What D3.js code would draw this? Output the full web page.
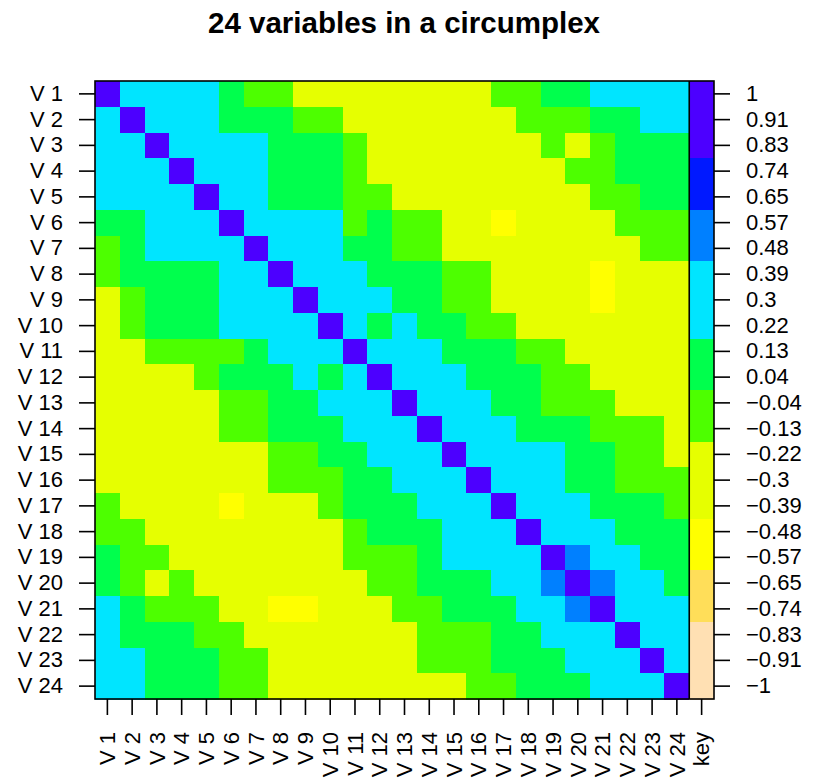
<!DOCTYPE html>
<html>
<head>
<meta charset="utf-8">
<script src="https://cdn.jsdelivr.net/npm/d3@7"></script>
<style>
  html, body { margin: 0; padding: 0; background: #fff; }
  svg { display: block; }
  text { font-family: "Liberation Sans", Arial, Helvetica, sans-serif; fill: #000; }
</style>
</head>
<body>
<svg id="chart" width="815" height="784"></svg>
<script>
// Estimated correlation levels read from the colour bins
const P = 1.0, B = 0.5, C = 0.3, G = 0.1, L = -0.1, Y = -0.3, W = -0.5;

const variables = ["V 1","V 2","V 3","V 4","V 5","V 6","V 7","V 8","V 9","V 10","V 11","V 12",
                   "V 13","V 14","V 15","V 16","V 17","V 18","V 19","V 20","V 21","V 22","V 23","V 24"];

const corMatrix = [
  [P,C,C,C,C,G,L,L,Y,Y,Y,Y,Y,Y,Y,Y,L,L,G,G,C,C,C,C],
  [C,P,C,C,C,G,G,G,L,L,Y,Y,Y,Y,Y,Y,Y,L,L,L,G,G,C,C],
  [C,C,P,C,C,C,C,G,G,G,L,Y,Y,Y,Y,Y,Y,Y,L,Y,L,G,G,G],
  [C,C,C,P,C,C,C,G,G,G,L,Y,Y,Y,Y,Y,Y,Y,Y,L,L,G,G,G],
  [C,C,C,C,P,C,C,G,G,G,L,L,Y,Y,Y,Y,Y,Y,Y,Y,L,L,G,G],
  [G,G,C,C,C,P,C,C,C,C,L,G,L,L,Y,Y,W,Y,Y,Y,Y,L,L,L],
  [L,G,C,C,C,C,P,C,C,C,G,G,L,L,Y,Y,Y,Y,Y,Y,Y,Y,L,L],
  [L,G,G,G,G,C,C,P,C,C,C,G,G,G,L,L,Y,Y,Y,Y,W,Y,Y,Y],
  [Y,L,G,G,G,C,C,C,P,C,C,C,G,G,L,L,Y,Y,Y,Y,W,Y,Y,Y],
  [Y,L,G,G,G,C,C,C,C,P,C,G,C,G,G,L,L,Y,Y,Y,Y,Y,Y,Y],
  [Y,Y,L,L,L,L,G,C,C,C,P,C,C,C,G,G,G,L,L,Y,Y,Y,Y,Y],
  [Y,Y,Y,Y,L,G,G,G,C,G,C,P,C,C,C,G,G,G,L,L,Y,Y,Y,Y],
  [Y,Y,Y,Y,Y,L,L,G,G,C,C,C,P,C,C,C,G,G,L,L,L,Y,Y,Y],
  [Y,Y,Y,Y,Y,L,L,G,G,G,C,C,C,P,C,C,C,G,G,G,L,L,L,Y],
  [Y,Y,Y,Y,Y,Y,Y,L,L,G,G,C,C,C,P,C,C,C,C,G,G,L,L,Y],
  [Y,Y,Y,Y,Y,Y,Y,L,L,L,G,G,C,C,C,P,C,C,C,G,G,L,L,L],
  [L,Y,Y,Y,Y,W,Y,Y,Y,L,G,G,G,C,C,C,P,C,C,C,G,G,G,L],
  [L,L,Y,Y,Y,Y,Y,Y,Y,Y,L,G,G,G,C,C,C,P,C,C,C,G,G,G],
  [G,L,L,Y,Y,Y,Y,Y,Y,Y,L,L,L,G,C,C,C,C,P,B,C,C,G,G],
  [G,L,Y,L,Y,Y,Y,Y,Y,Y,Y,L,L,G,G,G,C,C,B,P,B,C,C,G],
  [C,G,L,L,L,Y,Y,W,W,Y,Y,Y,L,L,G,G,G,C,C,B,P,C,C,C],
  [C,G,G,G,L,L,Y,Y,Y,Y,Y,Y,Y,L,L,L,G,G,C,C,C,P,C,C],
  [C,C,G,G,G,L,L,Y,Y,Y,Y,Y,Y,L,L,L,G,G,G,C,C,C,P,C],
  [C,C,G,G,G,L,L,Y,Y,Y,Y,Y,Y,Y,Y,L,L,G,G,G,C,C,C,P]
];

// Key column values (top to bottom) and their labels
const keyValues = [1, 0.913, 0.826, 0.739, 0.652, 0.565, 0.478, 0.391, 0.304, 0.217, 0.130, 0.043,
                   -0.043, -0.130, -0.217, -0.304, -0.391, -0.478, -0.565, -0.652, -0.739, -0.826, -0.913, -1];
const keyLabels = ["1","0.91","0.83","0.74","0.65","0.57","0.48","0.39","0.3","0.22","0.13","0.04",
                   "\u22120.04","\u22120.13","\u22120.22","\u22120.3","\u22120.39","\u22120.48","\u22120.57",
                   "\u22120.65","\u22120.74","\u22120.83","\u22120.91","\u22121"];

// topo.colors(10), reversed so low -> high
const palette = ["#FFE0B3","#FFDE59","#FFFF00","#E6FF00","#4DFF00","#00FF4D","#00E5FF","#0080FF","#0019FF","#4C00FF"];

const chartTitle = "24 variables in a circumplex";
const columns = variables.concat(["key"]);

const svg = d3.select("#chart");
const plotL = 95, plotR = 714, plotT = 81, plotB = 699;

const x = d3.scaleBand().domain(columns).range([plotL, plotR]).padding(0);
const y = d3.scaleBand().domain(variables).range([plotT, plotB]).padding(0);
const color = d3.scaleQuantize().domain([-1, 1]).range(palette);

// Title
svg.append("text")
  .attr("x", 404)
  .attr("y", 33)
  .attr("text-anchor", "middle")
  .style("font-size", "29.5px")
  .style("font-weight", "bold")
  .text(chartTitle);

// Cells
const cells = [];
corMatrix.forEach((row, i) => row.forEach((v, j) => cells.push({r: variables[i], c: variables[j], v})));
svg.append("g").selectAll("rect.cell").data(cells).join("rect")
  .attr("class", "cell")
  .attr("x", d => x(d.c))
  .attr("y", d => y(d.r))
  .attr("width", x.bandwidth() + 0.5)
  .attr("height", y.bandwidth() + 0.5)
  .attr("fill", d => color(d.v))
  .attr("shape-rendering", "crispEdges");

// Key column
svg.append("g").selectAll("rect.key").data(keyValues).join("rect")
  .attr("class", "key")
  .attr("x", x("key"))
  .attr("y", (d, i) => y(variables[i]))
  .attr("width", x.bandwidth())
  .attr("height", y.bandwidth() + 0.5)
  .attr("fill", d => color(d))
  .attr("shape-rendering", "crispEdges");

// Border and key separator
svg.append("rect")
  .attr("x", plotL).attr("y", plotT)
  .attr("width", plotR - plotL).attr("height", plotB - plotT)
  .attr("fill", "none").attr("stroke", "#000").attr("stroke-width", 1.6);
svg.append("line")
  .attr("x1", x("key")).attr("x2", x("key"))
  .attr("y1", plotT).attr("y2", plotB)
  .attr("stroke", "#000").attr("stroke-width", 1.6);

// Axes
const tickLen = 16, pad = 16, fs = "22px";

const leftAxis = svg.append("g").attr("transform", `translate(${plotL},0)`)
  .call(d3.axisLeft(y).tickSize(tickLen).tickPadding(pad));
leftAxis.select(".domain").remove();
leftAxis.selectAll("line").attr("stroke", "#000").attr("stroke-width", 1.6);
leftAxis.selectAll("text").style("font-size", fs).attr("font-family", null);

const ky = d3.scaleBand().domain(keyLabels).range([plotT, plotB]).padding(0);
const rightAxis = svg.append("g").attr("transform", `translate(${plotR},0)`)
  .call(d3.axisRight(ky).tickSize(tickLen).tickPadding(pad));
rightAxis.select(".domain").remove();
rightAxis.selectAll("line").attr("stroke", "#000").attr("stroke-width", 1.6);
rightAxis.selectAll("text").style("font-size", fs).attr("font-family", null);

const bottomAxis = svg.append("g").attr("transform", `translate(0,${plotB})`)
  .call(d3.axisBottom(x).tickSize(tickLen).tickPadding(pad));
bottomAxis.select(".domain").remove();
bottomAxis.selectAll("line").attr("stroke", "#000").attr("stroke-width", 1.6);
bottomAxis.selectAll("text")
  .style("font-size", fs).attr("font-family", null)
  .attr("text-anchor", "end")
  .attr("dy", "0.35em")
  .attr("y", 0)
  .attr("transform", "translate(0,33) rotate(-90)");
</script>
</body>
</html>
